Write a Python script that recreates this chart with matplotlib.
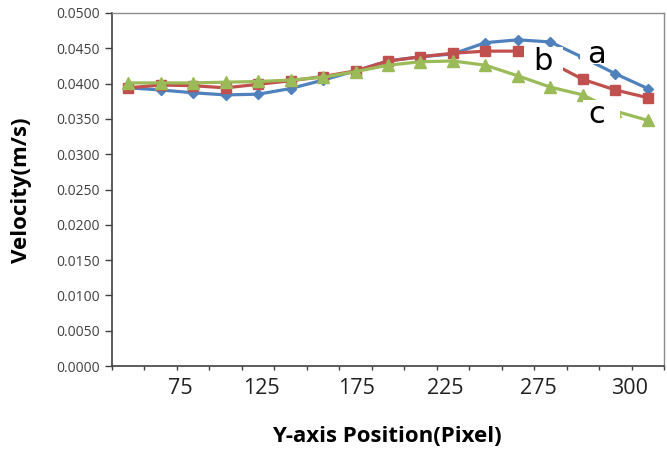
import numpy as np
import matplotlib
matplotlib.use("Agg")
import matplotlib.pyplot as plt
from matplotlib.patches import Rectangle

plt.rcParams["font.family"] = ["Open Sans", "DejaVu Sans"]

# velocity profiles (m/s), one value per sampled position
vel_a = [0.0394, 0.0391, 0.0387, 0.0384, 0.0385, 0.0393, 0.0405, 0.0418, 0.0432,
         0.0438, 0.0442, 0.0458, 0.0462, 0.0459, 0.0437, 0.0414, 0.0393]
vel_b = [0.0394, 0.0398, 0.0397, 0.0394, 0.0399, 0.0404, 0.0410, 0.0418, 0.0432,
         0.0438, 0.0443, 0.0446, 0.0446, 0.0430, 0.0406, 0.0391, 0.0380]
vel_c = [0.0401, 0.0401, 0.0401, 0.0402, 0.0403, 0.0405, 0.0409, 0.0417, 0.0426,
         0.0431, 0.0432, 0.0426, 0.0411, 0.0395, 0.0384, 0.0361, 0.0348]

x_labels = ["75", "125", "175", "225", "275", "300"]
series_names = ["a", "b", "c"]

n = len(vel_a)
x = np.arange(n)

fig = plt.figure(figsize=(6.67, 4.53), dpi=100)
ax = fig.add_axes([112 / 667, 87 / 453, 552 / 667, 353 / 453])

ax.plot(x, vel_a, color="#4F81BD", lw=2.3, marker="D", ms=5.5, zorder=3)
ax.plot(x, vel_b, color="#C0504D", lw=2.3, marker="s", ms=7, zorder=3)
ax.plot(x, vel_c, color="#9BBB59", lw=2.3, marker="^", ms=8, zorder=3)

# series labels: text on white boxes that blank out the line underneath
label_xy = [(14.43, 0.0441), (12.77, 0.0431), (14.44, 0.0356)]
# (x0, x1, y0, y1) of each white box
label_box = [(13.91, 14.65, 0.04274, 0.04543),
             (12.19, 13.39, 0.04119, 0.04515),
             (14.00, 15.15, 0.03411, 0.03765)]
for name, (lx, ly), (x0, x1, y0, y1) in zip(series_names, label_xy, label_box):
    ax.add_patch(Rectangle((x0, y0), x1 - x0, y1 - y0, facecolor="white",
                           edgecolor="none", zorder=4))
    ax.text(lx, ly, name, fontsize=22, ha="center", va="center", color="black",
            family=["DejaVu Sans"], zorder=5)

ax.set_xlim(-0.5, n - 0.5)
ax.set_ylim(0, 0.05)
ax.set_yticks(np.arange(0, 0.0501, 0.005))
ax.yaxis.set_major_formatter(matplotlib.ticker.FormatStrFormatter("%.4f"))
ax.tick_params(axis="y", direction="out", length=5, width=1, color="#404040",
               labelsize=10, labelcolor="#404040", pad=4)

label_pos = [1.59, 4.11, 7.04, 9.76, 12.62, 15.45]
ax.set_xticks(label_pos)
ax.set_xticklabels(x_labels)
ax.set_xticks(np.arange(-0.5, n, 1.0), minor=True)
ax.tick_params(axis="x", which="major", length=0, labelsize=15.5, pad=9,
               labelcolor="#202020")
ax.tick_params(axis="x", which="minor", direction="out", length=3, width=1,
               color="#404040")

for side in ["left", "bottom"]:
    ax.spines[side].set_color("#404040")
    ax.spines[side].set_linewidth(1.2)
for side in ["top", "right"]:
    ax.spines[side].set_color("#8c8c8c")
    ax.spines[side].set_linewidth(1.0)

fig.text(22 / 667, 1 - 190 / 453, "Velocity(m/s)", rotation=90, fontsize=16,
         fontweight="bold", ha="center", va="center")
fig.text(387 / 667, 1 - 436 / 453, "Y-axis Position(Pixel)", fontsize=16,
         fontweight="bold", ha="center", va="center")

fig.savefig("out.png", dpi=100)
